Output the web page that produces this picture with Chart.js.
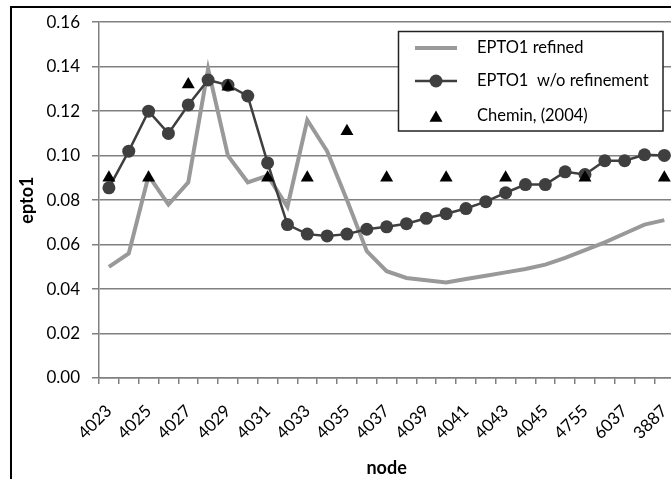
<!DOCTYPE html>
<html><head><meta charset="utf-8">
<script src="https://cdn.jsdelivr.net/npm/chart.js@4/dist/chart.umd.min.js"></script>
<style>
html,body{margin:0;padding:0;background:#fff;overflow:hidden;width:671px;height:479px;}
#wrap{position:absolute;left:0;top:0;width:696px;height:479px;}
</style></head><body>
<div id="wrap"><canvas id="c"></canvas></div>
<script>
// categories (node ids); odd positions near the end are not labelled in the picture
const nodes = ['4023','4024','4025','4026','4027','4028','4029','4030','4031','4032',
  '4033','4034','4035','4036','4037','4038','4039','4040','4041','4042',
  '4043','4044','4045','','4755','','6037','','3887'];
const refined = [0.050,0.056,0.091,0.078,0.088,0.139,0.100,0.088,0.091,0.077,
  0.116,0.102,0.080,0.057,0.048,0.045,0.044,0.043,0.0445,0.046,
  0.0475,0.049,0.051,0.054,0.0575,0.061,0.065,0.069,0.071];
const noRefinement = [0.0855,0.102,0.120,0.110,0.1228,0.134,0.1317,0.1268,0.0967,0.069,
  0.0647,0.0639,0.0647,0.0669,0.068,0.0694,0.0718,0.0739,0.0762,0.0793,
  0.0833,0.087,0.087,0.0927,0.0915,0.0977,0.0977,0.1004,0.1001];
const chemin = [0.090,null,0.090,null,0.132,null,0.131,null,0.090,null,
  0.090,null,0.111,null,0.090,null,null,0.090,null,null,
  0.090,null,null,null,0.090,null,null,null,0.090];
const seriesNames = ['EPTO1 refined','EPTO1  w/o refinement','Chemin, (2004)'];
const yMin = 0, yMax = 0.16, yStep = 0.02;

const FONT = 'Lato';
const GRID = '#808080';

const frame = {
  id:'frame',
  beforeDraw(chart){
    const ctx = chart.ctx;
    ctx.save();
    ctx.fillStyle='#fff';
    ctx.fillRect(0,0,chart.width,chart.height);
    ctx.strokeStyle='#000';
    ctx.lineWidth=2;
    ctx.strokeRect(11,7,chart.width+40,chart.height+40);
    ctx.restore();
  }
};

const legendBox = {
  id:'legendBox',
  afterDraw(chart){
    const ctx = chart.ctx;
    const ds = chart.data.datasets;
    const bx=398.5, by=31.5, bw=264.5, bh=99.5;
    ctx.save();
    ctx.fillStyle='#fff';
    ctx.fillRect(bx,by,bw,bh);
    ctx.strokeStyle='#222';
    ctx.lineWidth=1.5;
    ctx.strokeRect(bx,by,bw,bh);
    const rows=[48,81,116];
    const x0=415,x1=457,xm=436,tx=477;
    ctx.font='16.5px '+FONT;
    ctx.fillStyle='#000';
    ctx.textBaseline='middle';
    ctx.textAlign='left';
    // row 1
    ctx.strokeStyle=ds[0].borderColor; ctx.lineWidth=ds[0].borderWidth;
    ctx.beginPath(); ctx.moveTo(x0,rows[0]); ctx.lineTo(x1,rows[0]); ctx.stroke();
    // row 2
    ctx.strokeStyle=ds[1].borderColor; ctx.lineWidth=ds[1].borderWidth;
    ctx.beginPath(); ctx.moveTo(x0,rows[1]); ctx.lineTo(x1,rows[1]); ctx.stroke();
    ctx.fillStyle=ds[1].pointBackgroundColor;
    ctx.beginPath(); ctx.arc(xm,rows[1],ds[1].pointRadius,0,Math.PI*2); ctx.fill();
    // row 3
    const r=ds[2].pointRadius;
    ctx.fillStyle=ds[2].pointBackgroundColor;
    ctx.beginPath();
    for(let k=0;k<3;k++){const a=k*2*Math.PI/3; const px=xm+Math.sin(a)*r, py=rows[2]+r/4-Math.cos(a)*r; k?ctx.lineTo(px,py):ctx.moveTo(px,py);}
    ctx.closePath(); ctx.fill();
    ctx.fillStyle='#000';
    seriesNames.forEach((n,i)=>ctx.fillText(n,tx,rows[i]));
    ctx.restore();
  }
};

new Chart(document.getElementById('c'),{
  type:'line',
  data:{
    labels:nodes,
    datasets:[
      {label:seriesNames[0],data:refined,borderColor:'#999999',borderWidth:4,pointRadius:0,tension:0,order:3,fill:false},
      {label:seriesNames[1],data:noRefinement,borderColor:'#3f3f3f',borderWidth:2.5,pointRadius:6.5,pointBackgroundColor:'#3f3f3f',pointBorderColor:'#3f3f3f',pointBorderWidth:0,tension:0,order:2,fill:false},
      {label:seriesNames[2],data:chemin,showLine:false,pointStyle:'triangle',pointRadius:7.5,pointBackgroundColor:'#000',pointBorderColor:'#000',pointBorderWidth:0,order:1}
    ]
  },
  options:{
    responsive:true,maintainAspectRatio:false,animation:false,
    layout:{padding:{left:12,top:20,right:15,bottom:0}},
    plugins:{legend:{display:false},tooltip:{enabled:false}},
    scales:{
      x:{
        type:'category',offset:true,
        grid:{offset:true,drawOnChartArea:false,drawTicks:true,tickLength:6,color:GRID,lineWidth:1.5},
        border:{display:true,color:GRID,width:1.5},
        ticks:{autoSkip:false,minRotation:45,maxRotation:45,padding:17,color:'#000',font:{family:FONT,size:17},
          callback:function(v,i){return i%2===0?this.getLabelForValue(v):'';}},
        title:{display:true,text:'node',color:'#000',font:{family:FONT,size:18,weight:'bold'},padding:{top:0,bottom:0}},
        afterFit(s){s.height=101;}
      },
      y:{
        min:yMin,max:yMax,
        grid:{color:GRID,lineWidth:1.5,tickLength:7},
        border:{display:true,color:GRID,width:1.5},
        ticks:{stepSize:yStep,padding:12,color:'#000',font:{family:FONT,size:17},callback:v=>v.toFixed(2)},
        title:{display:true,text:'epto1',color:'#000',font:{family:FONT,size:18,weight:'bold'},padding:{top:4,bottom:0}},
        afterFit(s){s.width=87;}
      }
    }
  },
  plugins:[frame,legendBox]
});
</script>
</body></html>
